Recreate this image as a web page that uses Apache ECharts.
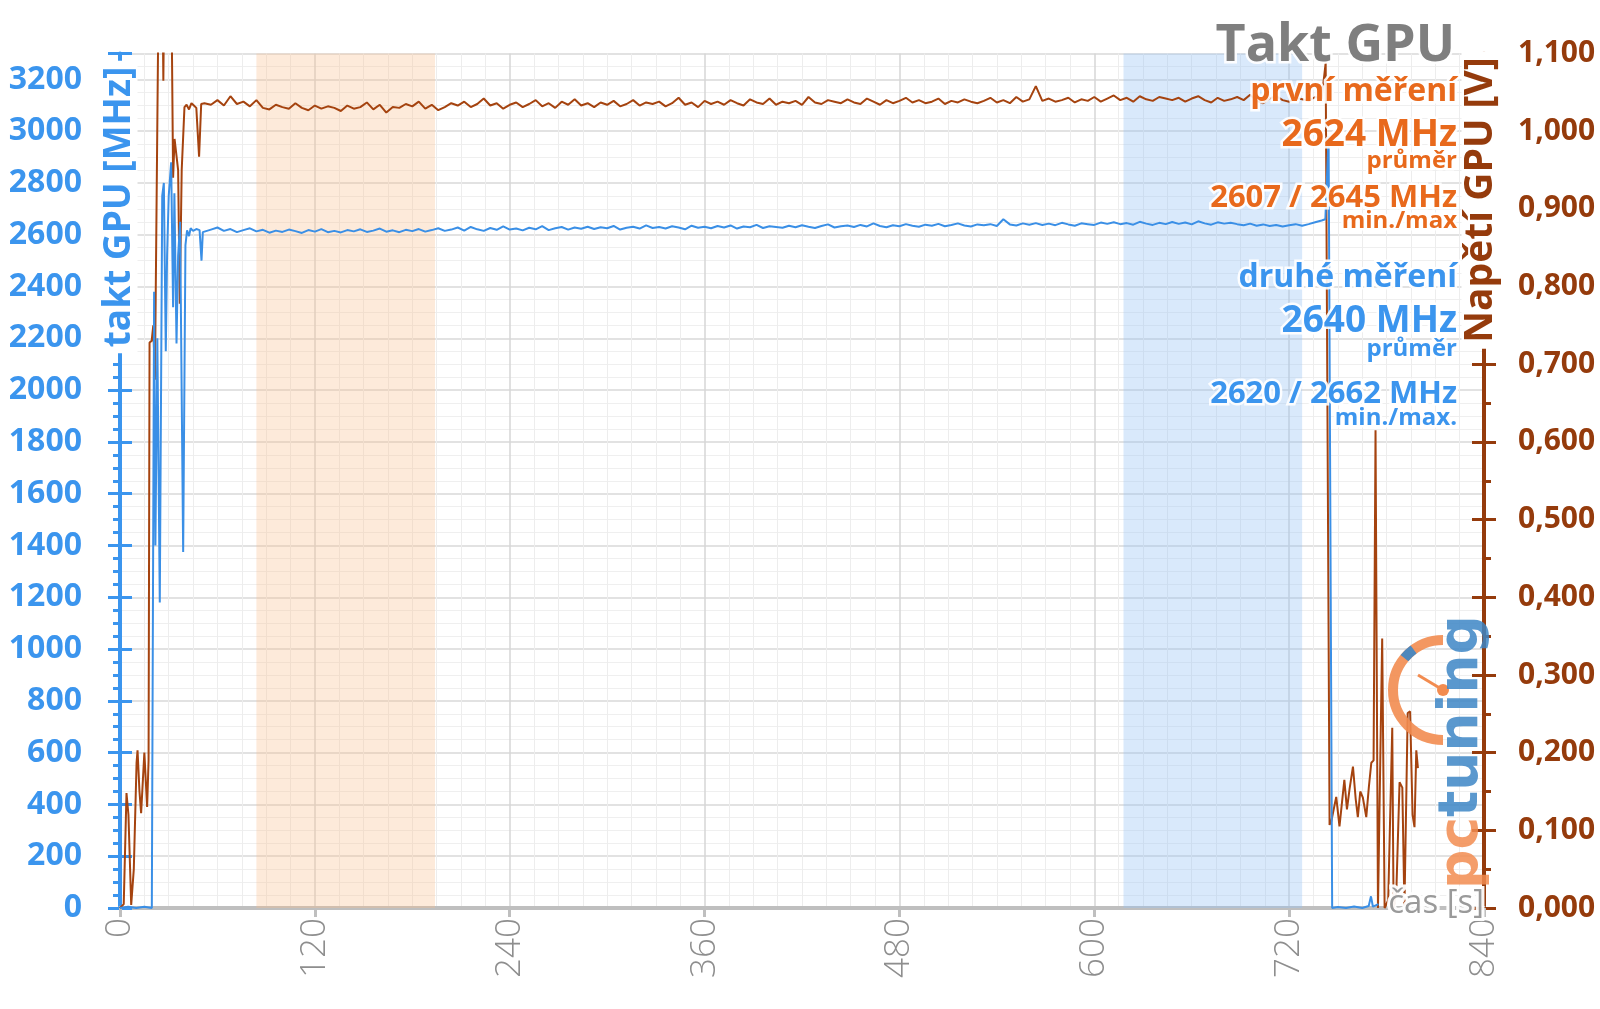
<!DOCTYPE html>
<html><head><meta charset="utf-8">
<script src="https://cdn.jsdelivr.net/npm/echarts@6/dist/echarts.min.js"></script>
<style>html,body{margin:0;padding:0;background:#fff}#chart{width:1600px;height:1009px}</style>
</head><body><div id="chart"></div>
<script>
// ---------- DATA ----------
// Voltage (V) – start transient
const voltStartT = [0, 2.3, 4.0, 5.2, 6.9, 8.5, 10.2, 10.8, 12.0, 13.0, 15.0, 16.7, 17.6, 18.2, 19.5, 20.5, 21.5, 24.3, 25.8, 26.7, 27.7, 30.0, 31.8, 32.7, 33.6, 34.8, 35.8, 36.8, 38.0, 39.7, 41.0, 42.5, 44.0, 45.5, 47.0, 48.7, 50.0];
const voltStartV = [0, 0.005, 0.148, 0.12, 0.004, 0.05, 0.187, 0.203, 0.15, 0.122, 0.2, 0.13, 0.19, 0.728, 0.73, 0.75, 0.68, 1.3, 1.25, 1.065, 1.3, 1.25, 1.15, 0.94, 0.99, 0.992, 0.95, 0.778, 0.95, 1.031, 1.034, 1.028, 1.036, 1.033, 1.03, 0.967, 1.035];
// Clock (MHz) – start transient
const clockStartT = [0, 5, 10, 15, 19.6, 21.0, 21.8, 23.0, 24.5, 26.0, 27.0, 28.2, 29.0, 30.0, 31.5, 32.7, 33.5, 34.8, 35.8, 37.0, 38.9, 40.3, 41.3, 42.5, 43.5, 45.0, 47.0, 49.0, 50.2, 51.0];
const clockStartMHz = [0, 5, 0, 5, 0, 2380, 1400, 2200, 1180, 2750, 2800, 2150, 2520, 2750, 2880, 2320, 2760, 2180, 2520, 2650, 1375, 2560, 2617, 2595, 2625, 2615, 2622, 2618, 2500, 2610];
// Steady part, sampled every 4 s from t = 52 s to t = 740 s
const steadyStartT = 52;
const steadyStepT = 4;
const voltSteadyV = [
 1.036,1.034,1.040,1.033,1.045,1.035,1.038,1.032,1.040,1.030,
 1.028,1.034,1.031,1.029,1.036,1.030,1.027,1.033,1.029,1.032,
 1.030,1.026,1.033,1.029,1.031,1.037,1.028,1.034,1.024,1.031,
 1.030,1.035,1.032,1.038,1.029,1.034,1.027,1.031,1.036,1.033,
 1.038,1.031,1.035,1.042,1.033,1.036,1.029,1.034,1.037,1.031,
 1.035,1.040,1.032,1.036,1.030,1.038,1.034,1.041,1.033,1.036,
 1.031,1.037,1.034,1.039,1.032,1.035,1.040,1.033,1.037,1.035,
 1.038,1.032,1.036,1.043,1.034,1.037,1.031,1.039,1.035,1.038,
 1.034,1.040,1.036,1.033,1.041,1.037,1.035,1.042,1.034,1.038,
 1.036,1.039,1.034,1.044,1.037,1.035,1.040,1.038,1.036,1.041,
 1.037,1.035,1.042,1.038,1.034,1.040,1.036,1.039,1.043,1.037,
 1.040,1.036,1.038,1.042,1.035,1.039,1.037,1.041,1.038,1.036,
 1.039,1.043,1.037,1.040,1.036,1.044,1.038,1.041,1.058,1.039,
 1.042,1.038,1.040,1.043,1.037,1.041,1.039,1.044,1.038,1.042,
 1.046,1.040,1.043,1.038,1.045,1.041,1.039,1.044,1.042,1.040,
 1.043,1.038,1.042,1.045,1.040,1.037,1.043,1.039,1.041,1.044,
 1.040,1.047,1.039,1.036,1.042,1.045,1.040,1.038,1.043,1.041,
 1.039,1.044,1.042
];
const clockSteadyMHz = [
 2612,2620,2628,2615,2622,2610,2618,2625,2613,2619,
 2608,2616,2611,2620,2614,2607,2618,2612,2622,2610,
 2615,2609,2618,2613,2621,2611,2616,2624,2612,2617,
 2610,2619,2614,2622,2612,2618,2625,2615,2620,2628,
 2616,2630,2621,2615,2626,2619,2632,2620,2624,2617,
 2627,2621,2633,2618,2625,2630,2620,2628,2623,2631,
 2622,2629,2625,2634,2620,2627,2631,2624,2636,2626,
 2630,2624,2633,2628,2621,2635,2627,2631,2625,2634,
 2628,2636,2624,2632,2629,2638,2626,2633,2630,2627,
 2635,2629,2637,2631,2626,2634,2640,2628,2633,2636,
 2630,2638,2632,2644,2634,2629,2637,2633,2641,2635,
 2631,2639,2635,2642,2633,2638,2644,2636,2632,2640,
 2637,2641,2634,2660,2640,2636,2644,2639,2645,2638,
 2643,2637,2646,2640,2635,2644,2641,2638,2647,2642,
 2648,2641,2645,2639,2650,2643,2638,2646,2641,2649,
 2642,2647,2640,2652,2644,2639,2648,2643,2646,2641,
 2637,2643,2635,2640,2634,2638,2632,2637,2641,2635,
 2641,2648,2655
];
// End of the run
const voltEndT = [742.5, 744.9, 746, 749, 751, 754, 755.6, 757.2, 759.3, 761, 762.3, 763.8, 765.4, 767.5, 769.1, 770.6, 772, 773.2, 774.7, 777.3, 778.8, 781, 783.5, 784.3, 786, 788, 789.7, 791, 793, 794.5, 796, 797.2, 798.3, 799.3];
const voltEndV = [1.088, 0.107, 0.112, 0.143, 0.105, 0.165, 0.127, 0.153, 0.182, 0.140, 0.117, 0.150, 0.142, 0.117, 0.156, 0.187, 0.190, 0.615, 0.000, 0.347, 0.000, 0.010, 0.232, 0.000, 0.020, 0.162, 0.155, 0.000, 0.251, 0.253, 0.120, 0.104, 0.203, 0.180];
const clockEndT = [742.3, 744.3, 746.5, 750, 755, 760, 765, 769, 770.4, 771.6, 775];
const clockEndMHz = [2660, 2980, 0, 4, 0, 6, 0, 8, 45, 5, 15];
// Highlighted intervals (s)
const bandFirstRun = [84, 194];
const bandSecondRun = [618, 728];
// Texts
const chartTitle = 'Takt GPU';
const firstRunTexts = ['první měření', '2624 MHz', 'průměr', '2607 / 2645 MHz', 'min./max'];
const secondRunTexts = ['druhé měření', '2640 MHz', 'průměr', '2620 / 2662 MHz', 'min./max.'];
const leftAxisTitle = 'takt GPU [MHz]';
const rightAxisTitle = 'Napětí GPU [V]';
const xAxisTitle = 'čas [s]';

// ---------- BUILD ----------
function pairs(ts, vs) { return ts.map((t, i) => [t, vs[i]]); }
function steady(vs) { return vs.map((v, i) => [steadyStartT + i * steadyStepT, v]); }
const voltData = pairs(voltStartT, voltStartV).concat(steady(voltSteadyV), pairs(voltEndT, voltEndV));
const clockData = pairs(clockStartT, clockStartMHz).concat(steady(clockSteadyMHz), pairs(clockEndT, clockEndMHz));

const BLUE = '#3b95ee', BLUE_LINE = '#3a8fe6', BROWN = '#953b0c', BROWN_LINE = '#a5430f', ORANGE = '#e8691c', GRAY = '#7f7f7f';
const FONT = '"Open Sans", "Noto Sans", sans-serif';

const chart = echarts.init(document.getElementById('chart'));

function rtext(y, text, size, color) {
  return { type: 'text', z: 100, x: 1457, y: y,
    style: { text: text, fill: color, font: 'bold ' + size + 'px ' + FONT, align: 'right', verticalAlign: 'middle', stroke: 'rgba(255,255,255,0.9)', lineWidth: 5 } };
}
const sizes = [32, 37, 24, 31, 24];
const ys1 = [92, 135, 161, 198, 221];
const ys2 = [278, 321, 349, 394, 418];

const graphics = [
  { type: 'text', z: 100, x: 1455, y: 46, style: { text: chartTitle, fill: GRAY, font: 'bold 52px ' + FONT, align: 'right', verticalAlign: 'middle', stroke: 'rgba(255,255,255,0.9)', lineWidth: 5 } }
];
firstRunTexts.forEach((t, i) => graphics.push(rtext(ys1[i], t, sizes[i], ORANGE)));
secondRunTexts.forEach((t, i) => graphics.push(rtext(ys2[i], t, sizes[i], BLUE)));
graphics.push(
  { type: 'text', z: 100, x: 119, y: 207, rotation: Math.PI / 2,
    style: { text: leftAxisTitle, fill: BLUE, font: 'bold 37px ' + FONT, align: 'center', verticalAlign: 'middle', backgroundColor: '#fff', padding: [0, 6] } },
  { type: 'text', z: 100, x: 1481, y: 200, rotation: Math.PI / 2,
    style: { text: rightAxisTitle, fill: BROWN, font: 'bold 39px ' + FONT, align: 'center', verticalAlign: 'middle', backgroundColor: '#fff', padding: [0, 6] } },
  { type: 'text', z: 100, x: 1484, y: 904,
    style: { text: xAxisTitle, fill: '#9a9a9a', font: '33px ' + FONT, align: 'right', verticalAlign: 'middle', stroke: 'rgba(255,255,255,0.95)', lineWidth: 6 } },
  // logo
  { type: 'arc', z: 95, shape: { cx: 1443, cy: 690, r: 50, startAngle: Math.PI / 2, endAngle: Math.PI * 1.5, clockwise: true },
    style: { stroke: '#f28c50', lineWidth: 10, fill: null, opacity: 0.9 } },
  { type: 'arc', z: 96, shape: { cx: 1443, cy: 690, r: 50, startAngle: Math.PI * 1.22, endAngle: Math.PI * 1.3, clockwise: true },
    style: { stroke: '#3d86c6', lineWidth: 10, fill: null, opacity: 0.9 } },
  { type: 'line', z: 96, shape: { x1: 1443, y1: 690, x2: 1418, y2: 675 }, style: { stroke: '#f28c50', lineWidth: 3 } },
  { type: 'circle', z: 96, shape: { cx: 1443, cy: 690, r: 6 }, style: { fill: '#f28c50' } },
  { type: 'text', z: 97, x: 1463, y: 752, rotation: Math.PI / 2,
    style: { text: '{a|pc}{b|tuning}', align: 'center', verticalAlign: 'middle', opacity: 0.85,
      rich: { a: { fill: '#f28c50', font: 'bold 55px "DejaVu Sans"' }, b: { fill: '#3d86c6', font: 'bold 55px "DejaVu Sans"' } } } }
);

const option = {
  animation: false,
  backgroundColor: '#fff',
  grid: { left: 120, right: 116, top: 53.5, bottom: 101, containLabel: false },
  xAxis: {
    type: 'value', min: 0, max: 840, interval: 120,
    axisLine: { lineStyle: { color: '#bfbfbf', width: 4 } },
    axisTick: { length: 9, lineStyle: { color: '#bfbfbf', width: 3 } },
    minorTick: { show: false, splitNumber: 8 },
    axisLabel: { rotate: 90, margin: 10, color: '#8e8e8e', fontSize: 35, fontWeight: 300, fontFamily: FONT },
    splitLine: { lineStyle: { color: '#d6d6d6', width: 1.5 } },
    minorSplitLine: { show: true, lineStyle: { color: '#ededed', width: 1 } }
  },
  yAxis: [
    { type: 'value', position: 'left', min: 0, max: 3300, interval: 200,
      axisLine: { show: true, lineStyle: { color: BLUE, width: 4 } },
      axisTick: { show: true, length: 12, lineStyle: { color: BLUE, width: 3 } },
      minorTick: { show: true, splitNumber: 4, length: 7, lineStyle: { color: BLUE, width: 3 } },
      axisLabel: { color: BLUE, fontSize: 32, fontWeight: 'bold', fontFamily: FONT, margin: 38, showMaxLabel: false,
        formatter: v => String(Math.round(v)) },
      splitLine: { lineStyle: { color: '#d9d9d9', width: 1.5 } },
      minorSplitLine: { show: true, lineStyle: { color: '#efefef', width: 1 } } },
    { type: 'value', position: 'right', min: 0, max: 1.1, interval: 0.1,
      axisLine: { show: true, lineStyle: { color: BROWN, width: 4 } },
      axisTick: { show: true, length: 12, lineStyle: { color: BROWN, width: 3 } },
      minorTick: { show: true, splitNumber: 2, length: 7, lineStyle: { color: BROWN, width: 3 } },
      axisLabel: { color: BROWN, fontSize: 30, fontWeight: 'bold', fontFamily: FONT, margin: 34,
        formatter: v => v.toFixed(3).replace('.', ',') },
      splitLine: { show: false } },
    { type: 'value', position: 'left', min: 0, max: 3300, interval: 200,
      axisLine: { show: false }, axisLabel: { show: false }, splitLine: { show: false },
      axisTick: { show: true, inside: true, length: 12, lineStyle: { color: BLUE, width: 3 } } },
    { type: 'value', position: 'right', min: 0, max: 1.1, interval: 0.1,
      axisLine: { show: false }, axisLabel: { show: false }, splitLine: { show: false },
      axisTick: { show: true, inside: true, length: 12, lineStyle: { color: BROWN, width: 3 } } }
  ],
  series: [
    { type: 'line', name: 'bands', data: [], z: 1, silent: true,
      markArea: { silent: true, data: [
        [{ xAxis: bandFirstRun[0], itemStyle: { color: 'rgba(249,190,140,0.32)' } }, { xAxis: bandFirstRun[1] }],
        [{ xAxis: bandSecondRun[0], itemStyle: { color: 'rgba(150,195,245,0.36)' } }, { xAxis: bandSecondRun[1] }]
      ] } },
    { type: 'line', name: 'Napětí GPU', yAxisIndex: 1, data: voltData, showSymbol: false, z: 3,
      lineStyle: { color: BROWN_LINE, width: 2 }, itemStyle: { color: BROWN_LINE } },
    { type: 'line', name: 'takt GPU', yAxisIndex: 0, data: clockData, showSymbol: false, z: 4,
      lineStyle: { color: BLUE_LINE, width: 2 }, itemStyle: { color: BLUE_LINE } }
  ],
  graphic: graphics
};
chart.setOption(option);
</script></body></html>
